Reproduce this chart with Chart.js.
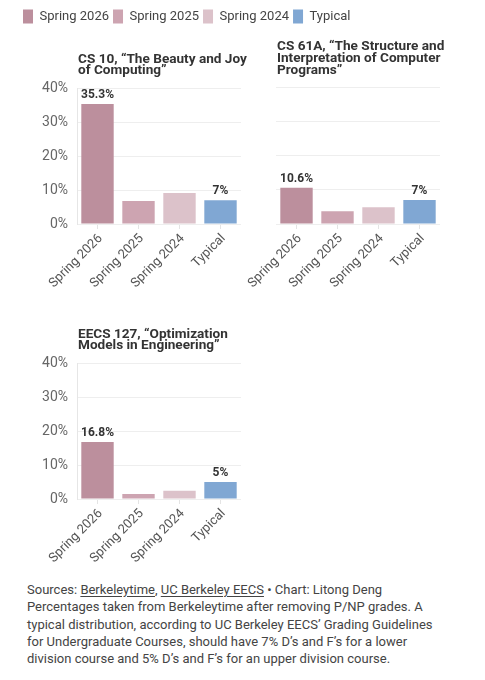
<!DOCTYPE html>
<html>
<head>
<meta charset="utf-8">
<script src="https://cdn.jsdelivr.net/npm/chart.js@4.4.1/dist/chart.umd.min.js"></script>
<style>
  html, body { margin: 0; padding: 0; background: #ffffff; }
  body { width: 485px; height: 680px; position: relative; overflow: hidden; font-family: Roboto, "Liberation Sans", sans-serif; }
  .box { position: absolute; }
  #foot { position: absolute; left: 27px; top: 581px; font-size: 13px; line-height: 17.25px; color: #444444; white-space: nowrap; }
  #foot u { text-decoration: underline; text-underline-offset: 2px; }
</style>
</head>
<body>
<div class="box" style="left:0;top:0;width:485px;height:300px"><canvas id="c1"></canvas></div>
<div class="box" style="left:240px;top:0;width:245px;height:300px"><canvas id="c2"></canvas></div>
<div class="box" style="left:0;top:310px;width:250px;height:265px"><canvas id="c3"></canvas></div>
<div id="foot">
Sources: <u>Berkeleytime</u>, <u>UC Berkeley EECS</u> • Chart: Litong Deng<br>
Percentages taken from Berkeleytime after removing P/NP grades. A<br>
typical distribution, according to UC Berkeley EECS’ Grading Guidelines<br>
for Undergraduate Courses, should have 7% D’s and F’s for a lower<br>
division course and 5% D’s and F’s for an upper division course.
</div>
<script>
const categories = ['Spring 2026', 'Spring 2025', 'Spring 2024', 'Typical'];
const cs10Values = [35.3, 6.8, 9.1, 7];
const cs61aValues = [10.6, 3.7, 4.9, 7];
const eecs127Values = [16.8, 1.5, 2.4, 5];
const labeledBars = [true, false, false, true];
const yTicks = [0, 10, 20, 30, 40];
const barColors = ['#bc8f9d', '#cda4b1', '#dcc2ca', '#80a7d3'];
const cs10Title = ['CS 10, “The Beauty and Joy', 'of Computing”'];
const cs61aTitle = ['CS 61A, “The Structure and', 'Interpretation of Computer', 'Programs”'];
const eecs127Title = ['EECS 127, “Optimization', 'Models in Engineering”'];

const FONT = 'Roboto, "Liberation Sans", sans-serif';
Chart.defaults.font.family = FONT;

const valueLabels = {
  id: 'valueLabels',
  afterDatasetsDraw(chart) {
    const ctx = chart.ctx;
    const meta = chart.getDatasetMeta(0);
    const ds = chart.data.datasets[0];
    ctx.save();
    ctx.font = '700 12px ' + FONT;
    ctx.fillStyle = '#333333';
    ctx.textAlign = 'center';
    ctx.textBaseline = 'alphabetic';
    meta.data.forEach((bar, i) => {
      if (!labeledBars[i]) return;
      ctx.fillText(String(ds.data[i]) + '%', bar.x, bar.y - 6);
    });
    ctx.restore();
  }
};

// Course title drawn left-aligned with the plot area, above it.
const courseTitle = {
  id: 'courseTitle',
  afterDraw(chart, args, opts) {
    if (!opts || !opts.lines) return;
    const ctx = chart.ctx;
    const area = chart.chartArea;
    const n = opts.lines.length;
    ctx.save();
    ctx.font = '700 13.6px ' + FONT;
    ctx.fillStyle = '#333333';
    ctx.textAlign = 'left';
    ctx.textBaseline = 'middle';
    opts.lines.forEach((t, i) => {
      ctx.fillText(t, area.left + 1, area.top - 17 - (n - 1 - i) * 11.9);
    });
    ctx.restore();
  }
};

// Adds room between the shared legend and the first plot (for its title).
const legendGap = {
  id: 'legendGap',
  beforeLayout(chart, args, opts) {
    const lg = chart.legend;
    if (!lg || lg._gapPatched || !opts || !opts.extra) return;
    const f = lg.fit;
    lg.fit = function () { f.call(this); this.height += opts.extra; };
    lg._gapPatched = true;
  }
};

function makeChart(id, values, titleLines, o) {
  const scales = {
    x: {
      grid: { display: true, drawOnChartArea: false, drawTicks: true, tickLength: 5, offset: false, color: '#e4e4e4' },
      border: { display: false },
      ticks: { maxRotation: 45, minRotation: 45, padding: 2, labelOffset: 3, color: '#555555', font: { size: 13 } },
      afterFit(s) { s.height = o.xh; }
    },
    y: {
      min: 0,
      max: 40,
      afterBuildTicks(s) { s.ticks = yTicks.map(v => ({ value: v })); },
      ticks: { display: o.yLabels, callback: v => v + '%', padding: 9, color: '#666666', font: { size: 14 } },
      grid: { color: '#eeeeee', drawTicks: false },
      border: { display: o.yBorder, color: '#e6e6e6' },
      afterFit(s) { s.width = o.yw; }
    }
  };
  if (o.rightGap) {
    scales.gap = {
      type: 'linear', position: 'right', display: true,
      grid: { display: false, drawTicks: false }, ticks: { display: false }, border: { display: false },
      afterFit(s) { s.width = o.rightGap; }
    };
  }
  return new Chart(document.getElementById(id), {
    type: 'bar',
    data: {
      labels: categories,
      datasets: [{
        data: values,
        backgroundColor: barColors,
        borderWidth: 0,
        barPercentage: 0.79,
        categoryPercentage: 1
      }]
    },
    options: {
      responsive: true,
      maintainAspectRatio: false,
      animation: false,
      events: [],
      layout: { padding: o.padding },
      plugins: {
        legend: o.legend ? {
          display: true,
          position: 'top',
          align: 'start',
          onClick: null,
          labels: {
            boxWidth: 10,
            boxHeight: 14,
            useBorderRadius: true,
            borderRadius: 3,
            padding: 4,
            color: '#444444',
            font: { size: 13 },
            generateLabels: () => categories.map((c, i) => ({
              text: c, fillStyle: barColors[i], strokeStyle: barColors[i],
              lineWidth: 0, hidden: false, index: i, fontColor: '#444444'
            }))
          }
        } : { display: false },
        title: { display: false },
        courseTitle: { lines: titleLines },
        legendGap: { extra: o.legendExtra || 0 },
        tooltip: { enabled: false }
      },
      scales: scales
    },
    plugins: [valueLabels, courseTitle, legendGap]
  });
}

makeChart('c1', cs10Values, cs10Title, {
  padding: { left: 19, right: 0, top: 5.5, bottom: 0 },
  legend: true, legendExtra: 54.5, xh: 76, yw: 58, yLabels: true, yBorder: true, rightGap: 244
});
makeChart('c2', cs61aValues, cs61aTitle, {
  padding: { left: 36, right: 45, top: 87.3, bottom: 0 },
  legend: false, xh: 76, yw: 0, yLabels: false, yBorder: false
});
makeChart('c3', eecs127Values, eecs127Title, {
  padding: { left: 19, right: 9, top: 53, bottom: 0 },
  legend: false, xh: 76, yw: 58, yLabels: true, yBorder: true
});
</script>
</body>
</html>
